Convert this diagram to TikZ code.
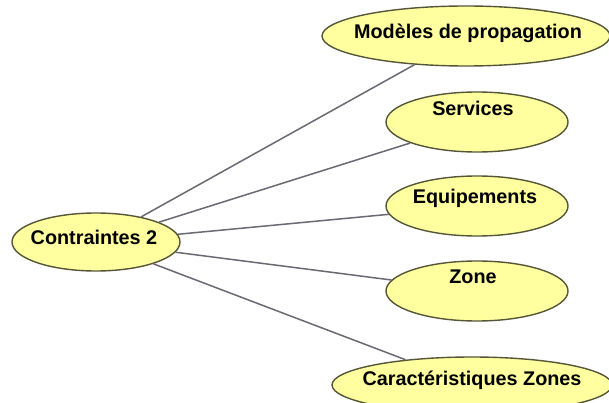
\documentclass[tikz,border=0pt]{standalone}
\usepackage{fontspec}
\setmainfont{Liberation Sans}
\usetikzlibrary{shapes.geometric}
\definecolor{bubfill}{RGB}{255,255,160}
\definecolor{bubdraw}{RGB}{85,85,55}
\definecolor{linkc}{RGB}{105,105,115}
\tikzset{
  bubble/.style={ellipse, draw=bubdraw, fill=bubfill, line width=1.4pt, inner sep=0pt},
  txt/.style={font=\fontsize{19.8}{22}\selectfont\bfseries, text=black, inner sep=0pt},
  link/.style={draw=linkc, line width=1.5pt},
}
\begin{document}
\begin{tikzpicture}[x=1pt,y=-1pt]
\useasboundingbox (0,0) rectangle (609,403);
\fill[white] (0,0) rectangle (609,403);
\clip (0,0) rectangle (609,403);
\node[bubble, minimum width=168pt, minimum height=58pt,
  label={[txt,yshift=5pt,xshift=-2pt]center:Contraintes 2}] (c) at (96,242) {};
\node[bubble, minimum width=288pt, minimum height=60pt,
  label={[txt,yshift=3pt,xshift=2pt]center:Modèles de propagation}] (m) at (466,36) {};
\node[bubble, minimum width=182pt, minimum height=60pt,
  label={[txt,yshift=14pt,xshift=-4pt]center:Services}] (s) at (477,122) {};
\node[bubble, minimum width=182pt, minimum height=60pt,
  label={[txt,yshift=8pt,xshift=-2pt]center:Equipements}] (e) at (477,206) {};
\node[bubble, minimum width=182pt, minimum height=60pt,
  label={[txt,yshift=14pt,xshift=-4pt]center:Zone}] (z) at (477,291) {};
\node[bubble, minimum width=280pt, minimum height=56pt,
  label={[txt,yshift=5pt]center:Caractéristiques Zones}] (k) at (472,385) {};
\draw[link] (c) -- (m);
\draw[link] (c) -- (s);
\draw[link] (c) -- (e);
\draw[link] (c) -- (z);
\draw[link] (c) -- (k);
\end{tikzpicture}
\end{document}
